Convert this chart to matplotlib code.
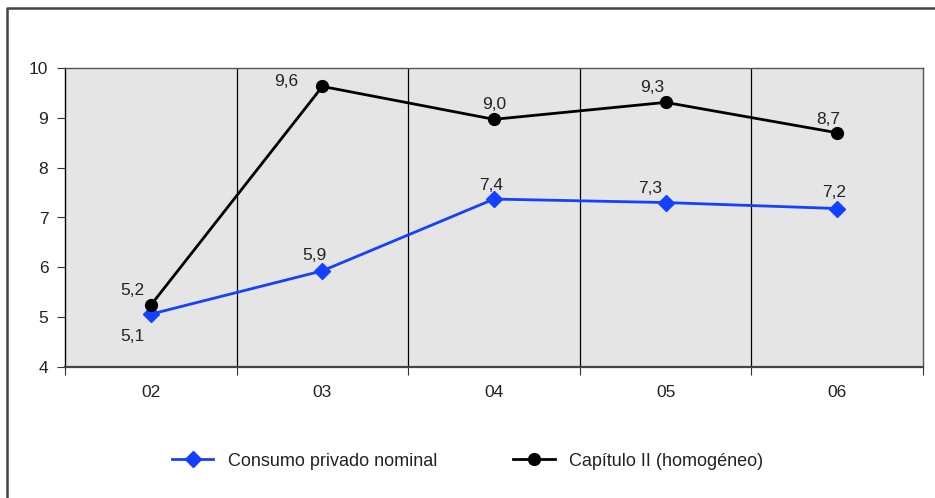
import numpy as np
import matplotlib
matplotlib.use('agg')
import matplotlib.pyplot as plt
from matplotlib.lines import Line2D

plt.rcParams['font.family'] = ['Liberation Sans', 'DejaVu Sans']

years = ['02', '03', '04', '05', '06']
consumo = [5.06, 5.93, 7.37, 7.30, 7.18]
capitulo = [5.24, 9.63, 8.97, 9.31, 8.70]

# label offsets in pixels (dx, dy)
off_consumo = [(-18, -22), (-8, 15), (-3, 14), (-15, 14), (-3, 16)]
off_capitulo = [(-18, 15), (-36, 5), (0, 15), (-13, 15), (-9, 13)]

fig = plt.figure(figsize=(9.35, 4.98), dpi=100)
ax = fig.add_axes([65/935, 1-367/498, 858/935, 299/498])
ax.set_facecolor('#e5e5e5')

x = np.arange(len(years))
ax.plot(x, consumo, color='#1440ff', lw=2, marker='D', ms=8, label='Consumo privado nominal', zorder=3)
ax.plot(x, capitulo, color='black', lw=2, marker='o', ms=8.5, label='Capítulo II (homogéneo)', zorder=3)

for vals, offs in [(consumo, off_consumo), (capitulo, off_capitulo)]:
    for xi, v, (dx, dy) in zip(x, vals, offs):
        ax.annotate(f'{v:.1f}'.replace('.', ','), (xi, v), xytext=(dx, dy),
                    textcoords='offset pixels', ha='center', va='center',
                    fontsize=12.5, color='#222222')

ax.set_xlim(-0.5, len(years) - 0.5)
ax.set_ylim(4, 10)
ax.set_yticks(range(4, 11))
ax.set_xticks(np.arange(-0.5, len(years)), labels=[''] * (len(years) + 1))
ax.set_xticks(x, labels=years, minor=True)
ax.tick_params(axis='x', which='minor', length=0, pad=13, labelsize=12.5, labelcolor='#222222')
ax.tick_params(axis='x', which='major', length=6, direction='out', color='#333333')
ax.tick_params(axis='y', length=6, direction='out', labelsize=12.5, pad=6, color='#333333',
               labelcolor='#222222')
for b in np.arange(0.5, len(years) - 1):
    ax.axvline(b, color='black', lw=0.9, zorder=1)

for s in ['top', 'right']:
    ax.spines[s].set_color('#555555')
    ax.spines[s].set_linewidth(1)
ax.spines['left'].set_color('black')
ax.spines['left'].set_linewidth(1)
ax.spines['bottom'].set_color('#444444')
ax.spines['bottom'].set_linewidth(1.6)

leg = fig.legend(loc='center', bbox_to_anchor=(0.5, 1-461/498), ncol=2, frameon=False,
                 fontsize=13, handlelength=2.3, columnspacing=4.2, handletextpad=0.8)
for t in leg.get_texts():
    t.set_color('#222222')

# outer frame: only top and left edges are visible
fig.lines.append(Line2D([7/935, 7/935, 1], [0, 1-8/498, 1-8/498], transform=fig.transFigure,
                        color='#444444', lw=1.8))

fig.savefig('out.png', dpi=100)
